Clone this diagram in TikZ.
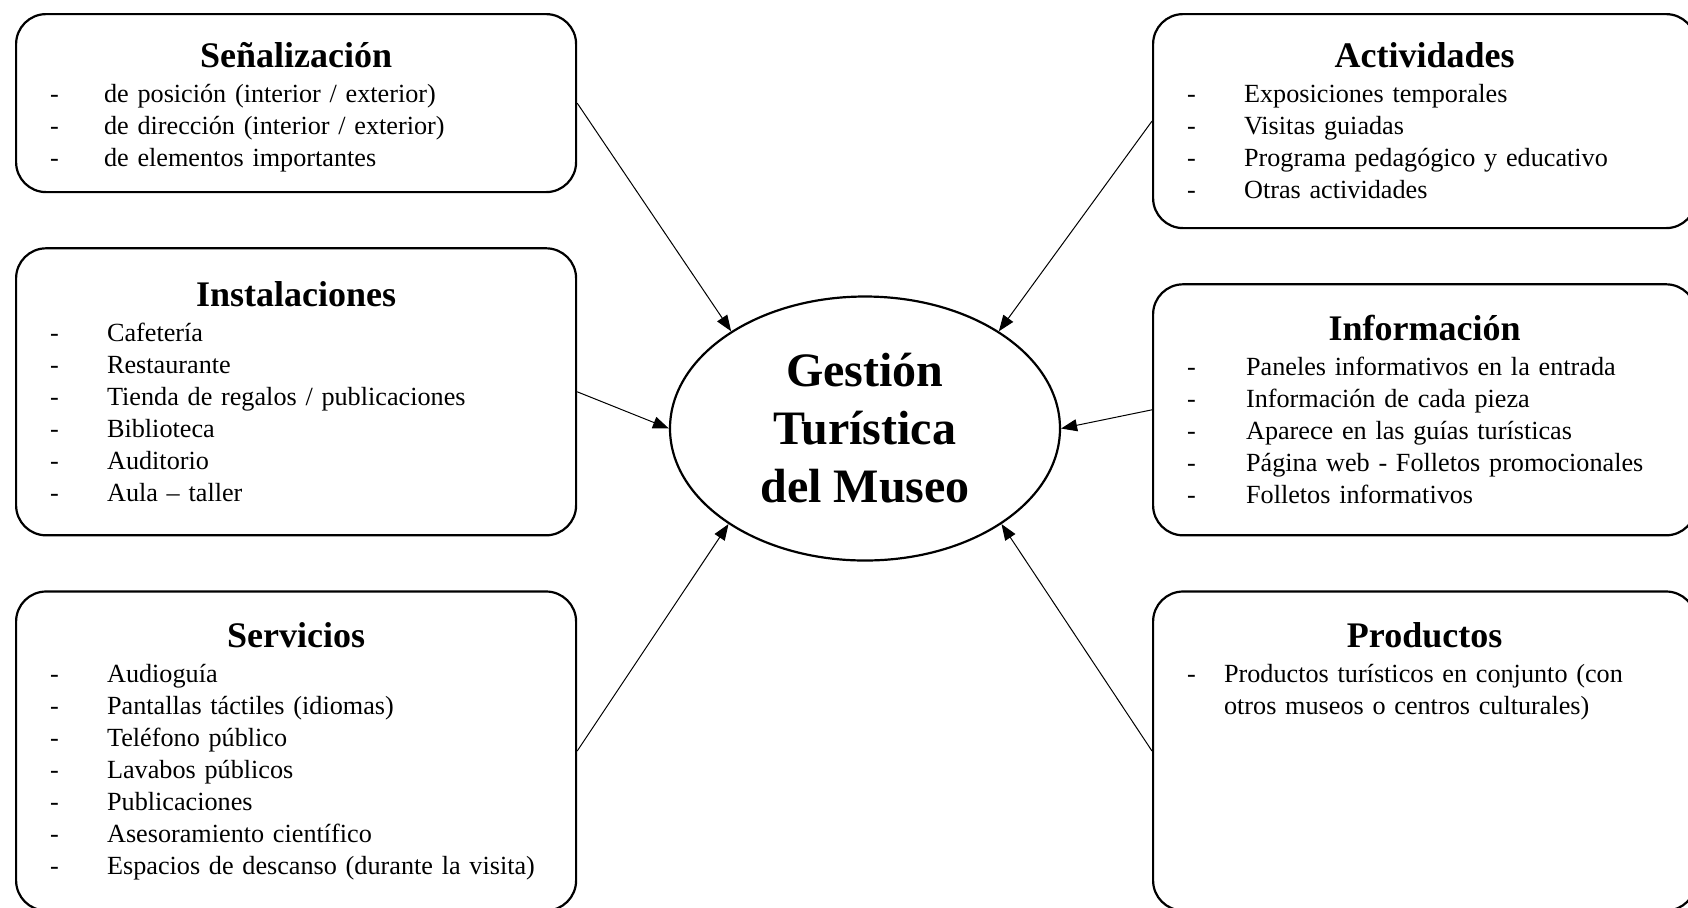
\documentclass[tikz,border=0pt]{standalone}
\usepackage{fontspec}
\setmainfont{Liberation Serif}
\usepackage{tikz}
\usetikzlibrary{shapes.geometric, arrows.meta, positioning}
\tikzstyle{caja} = [rectangle, draw, line width=1.1pt, rounded corners=15pt, inner xsep=17pt, inner ysep=0pt, align=left, font=\fontsize{13.1}{16}\selectfont]
\tikzstyle{izq} = [caja, text width=246pt]
\tikzstyle{der} = [caja, text width=237.5pt]
\tikzstyle{elipse} = [ellipse, draw, line width=1.1pt, minimum width=195pt, minimum height=132pt, inner sep=0pt, align=center, font=\fontsize{24}{29}\selectfont\bfseries]
\tikzstyle{flecha} = [line width=0.5pt, -{Triangle[length=8pt, width=6pt]}]
\newcommand{\titulo}[2][0pt]{{\centering\fontsize{18}{20}\selectfont\bfseries\rule{0pt}{#1}#2\par}\vspace{1.5pt}}
\newcommand{\punto}[1][28.5pt]{\makebox[#1][l]{-}}

\begin{document}
\begin{tikzpicture}[node distance=27pt]
    \useasboundingbox (0,0) rectangle (844pt,-453.5pt);

    \node[izq, minimum height=89pt, anchor=north west] (senal) at (7.5pt,-6.5pt) {\titulo[17pt]{Señalización}
        \punto[27pt]de posición (interior / exterior)\\
        \punto[27pt]de dirección (interior / exterior)\\
        \punto[27pt]de elementos importantes};
    \node[izq, minimum height=143.5pt, below=of senal] (instal) {\titulo{Instalaciones}
        \punto Cafetería\\
        \punto Restaurante\\
        \punto Tienda de regalos / publicaciones\\
        \punto Biblioteca\\
        \punto Auditorio\\
        \punto Aula -- taller};
    \node[izq, minimum height=159.5pt, below=of instal] (serv) {\titulo{Servicios}
        \punto Audioguía\\
        \punto Pantallas táctiles (idiomas)\\
        \punto Teléfono público\\
        \punto Lavabos públicos\\
        \punto Publicaciones\\
        \punto Asesoramiento científico\\
        \punto Espacios de descanso (durante la visita)};

    \node[der, minimum height=107pt, anchor=north west] (activ) at (576pt,-6.5pt) {\titulo{Actividades}
        \punto Exposiciones temporales\\
        \punto Visitas guiadas\\
        \punto Programa pedagógico y educativo\\
        \punto Otras actividades};
    \node[der, minimum height=125.5pt, below=of activ] (info) {\titulo{Información}
        \punto[29.5pt]Paneles informativos en la entrada\\
        \punto[29.5pt]Información de cada pieza\\
        \punto[29.5pt]Aparece en las guías turísticas\\
        \punto[29.5pt]Página web - Folletos promocionales\\
        \punto[29.5pt]Folletos informativos};
    \node[der, minimum height=159.5pt, below=of info] (prod) {\titulo{Productos}
        \punto[18.5pt]Productos turísticos en conjunto (con\\
        \hspace*{18.5pt}otros museos o centros culturales)\par\vspace*{67pt}\mbox{}};

    \node[elipse] (gestion) at (432.5pt,-214.25pt) {Gestión\\Turística\\del Museo};

    \draw[flecha] (senal.east) -- (gestion.144);
    \draw[flecha] (instal.east) -- (gestion.180);
    \draw[flecha] (serv.east) -- (gestion.215);
    \draw[flecha] (activ.west) -- (gestion.36);
    \draw[flecha] (info.west) -- (gestion.0);
    \draw[flecha] (prod.west) -- (gestion.325);
\end{tikzpicture}
\end{document}
